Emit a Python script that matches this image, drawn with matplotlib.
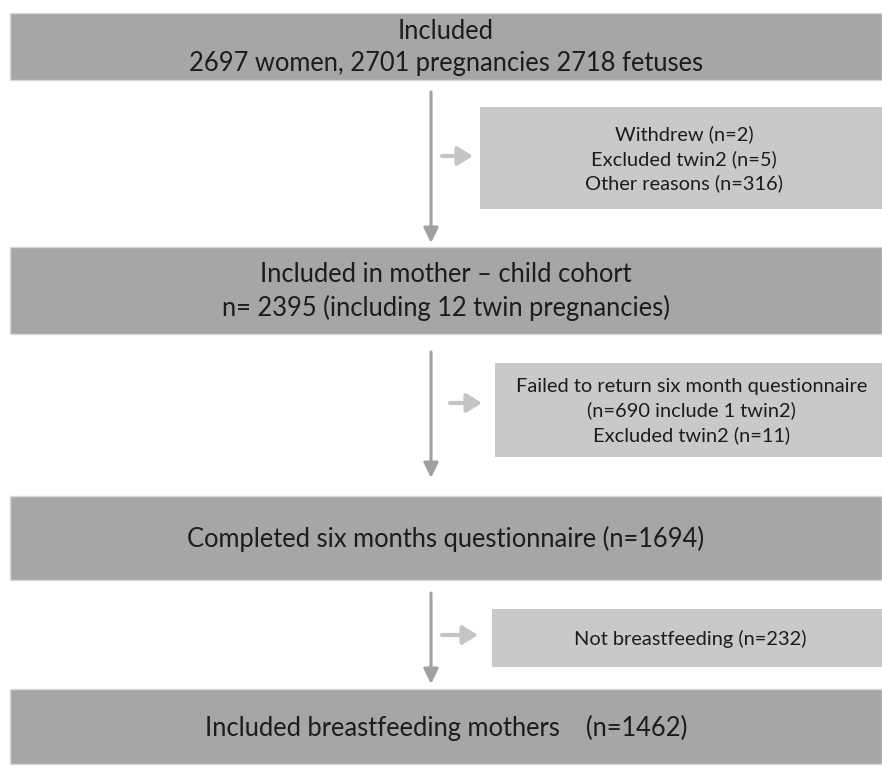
import matplotlib
matplotlib.use("Agg")
import matplotlib.pyplot as plt
from matplotlib.patches import Rectangle, FancyArrowPatch

plt.rcParams['font.family'] = ['Lato', 'DejaVu Sans']

# textes des cases principales et des exclusions
etapes = [
    "Included\n2697 women, 2701 pregnancies 2718 fetuses",
    "Included in mother \u2013 child cohort\nn= 2395 (including 12 twin pregnancies)",
    "Completed six months questionnaire (n=1694)",
    "Included breastfeeding mothers    (n=1462)",
]
exclusions = [
    "Withdrew (n=2)\nExcluded twin2 (n=5)\nOther reasons (n=316)",
    "Failed to return six month questionnaire\n(n=690 include 1 twin2)\nExcluded twin2 (n=11)",
    "Not breastfeeding (n=232)",
]

# mise en page (pixels)
W, H = 882, 769
main_y = [(13, 80), (247, 334), (496, 580), (689, 764)]
side_x0 = [480, 495, 492]
side_y = [(107, 209), (363, 457), (609, 667)]
varrow = [(92, 243), (352, 478), (593, 684)]
harrow = [(442, 473, 156), (450, 482, 403), (442, 478, 635)]
x_arrow = 431

fig = plt.figure(figsize=(W / 100, H / 100), dpi=100)
ax = fig.add_axes([0, 0, 1, 1])
ax.set_xlim(0, W)
ax.set_ylim(H, 0)
ax.axis('off')

gris_fonce = '#a6a6a6'
gris_clair = '#c9c9c9'
texte = '#1c1c1c'

for lab, (y0, y1) in zip(etapes, main_y):
    ax.add_patch(Rectangle((10, y0), W - 10, y1 - y0, facecolor=gris_fonce,
                           edgecolor='#d9d9d9', lw=1))
    ax.text((10 + W) / 2, (y0 + y1) / 2 + 1, lab, ha='center', va='center',
            fontsize=18.4, color=texte, linespacing=1.38)

for lab, x0, (y0, y1) in zip(exclusions, side_x0, side_y):
    ax.add_patch(Rectangle((x0, y0), W - x0, y1 - y0, facecolor=gris_clair,
                           edgecolor='none'))
    ax.text((x0 + W) / 2 + 3, (y0 + y1) / 2 + 1, lab, ha='center', va='center',
            fontsize=14.4, color=texte, linespacing=1.44)

for (y0, y1) in varrow:
    ax.add_patch(FancyArrowPatch((x_arrow, y0), (x_arrow, y1),
                                 arrowstyle='-|>,head_length=0.45,head_width=0.22',
                                 mutation_scale=20, color='#a0a0a0', lw=2.2,
                                 shrinkA=0, shrinkB=0))

for (x0, x1, y) in harrow:
    ax.add_patch(FancyArrowPatch((x0, y), (x1, y),
                                 arrowstyle='-|>,head_length=0.45,head_width=0.28',
                                 mutation_scale=20, color='#c4c4c4', lw=3,
                                 shrinkA=0, shrinkB=0))

fig.savefig('out.png', dpi=100, facecolor='white')
